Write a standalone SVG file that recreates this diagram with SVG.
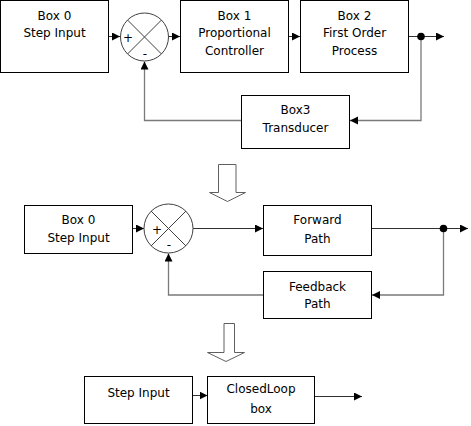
<svg xmlns="http://www.w3.org/2000/svg" width="471" height="426" viewBox="0 0 471 426">
<style>
.box{fill:#fff;stroke:#000;stroke-width:1}
.t{font-family:"DejaVu Sans",sans-serif;font-size:12px;fill:#000;text-anchor:middle}
.sum{fill:#fff;stroke:#404040;stroke-width:1}
.x{stroke:#404040;stroke-width:1}
.fw{fill:none;stroke:#303030;stroke-width:1}
.fb{fill:none;stroke:#7a7a7a;stroke-width:1.3}
.big{fill:#fff;stroke:#606060;stroke-width:1}
.s{font-family:"DejaVu Sans",sans-serif;font-size:12px;fill:#000;text-anchor:middle}
</style>
<defs>
<marker id="ah" markerUnits="userSpaceOnUse" markerWidth="9" markerHeight="9" refX="8" refY="4" orient="auto">
<path d="M0,0 L8,4 L0,8 z" fill="#000"/>
</marker>
</defs>

<g id="connectors">
<!-- top -->
<line class="fw" x1="108.5" y1="36.5" x2="120" y2="36.5" marker-end="url(#ah)"/>
<line class="fw" x1="169" y1="36.5" x2="180" y2="36.5" marker-end="url(#ah)"/>
<line class="fw" x1="288.5" y1="36.5" x2="300" y2="36.5" marker-end="url(#ah)"/>
<line class="fw" x1="408.5" y1="36.5" x2="444" y2="36.5" marker-end="url(#ah)"/>
<polyline class="fb" points="421,36.5 421,120.5 350,120.5" marker-end="url(#ah)"/>
<polyline class="fb" points="241.5,120.5 144.5,120.5 144.5,61.5" marker-end="url(#ah)"/>
<circle cx="421" cy="36.5" r="3.8" fill="#000"/>
<!-- middle -->
<line class="fw" x1="132.5" y1="228.5" x2="144" y2="228.5" marker-end="url(#ah)"/>
<line class="fw" x1="193" y1="228.5" x2="263" y2="228.5" marker-end="url(#ah)"/>
<line class="fw" x1="372" y1="228.5" x2="468" y2="228.5" marker-end="url(#ah)"/>
<polyline class="fb" points="443.5,228.5 443.5,295 372,295" marker-end="url(#ah)"/>
<polyline class="fb" points="263.5,295 168.5,295 168.5,253.5" marker-end="url(#ah)"/>
<circle cx="443.5" cy="228.5" r="3.8" fill="#000"/>
<!-- bottom -->
<line class="fw" x1="193" y1="395.5" x2="207.5" y2="395.5" marker-end="url(#ah)"/>
<line class="fw" x1="314.5" y1="396.5" x2="362" y2="396.5" marker-end="url(#ah)"/>
</g>

<g id="bigarrow1"><path class="big" d="M218.5,164.5 H236 V192.5 H245.5 L227.5,201.5 L209.5,192.5 H218.5 Z"/></g>
<g id="bigarrow2"><path class="big" d="M224,323.5 H234.5 V352.5 H244.5 L226,361.5 L207.5,352.5 H224 Z"/></g>

<g id="box0"><rect class="box" x="0.5" y="0.5" width="108" height="72"/>
<text class="t" x="54.5" y="19.5">Box 0</text><text class="t" x="54.5" y="37">Step Input</text></g>
<g id="sum1"><circle class="sum" cx="144.5" cy="37" r="24"/>
<line class="x" x1="127.5" y1="20" x2="161.5" y2="54"/><line class="x" x1="161.5" y1="20" x2="127.5" y2="54"/>
<text class="s" x="128" y="41.5">+</text><text class="s" x="145" y="57.5">-</text></g>
<g id="box1"><rect class="box" x="180.5" y="0.5" width="108" height="72"/>
<text class="t" x="234.5" y="19.5">Box 1</text><text class="t" x="234.5" y="37">Proportional</text><text class="t" x="234.5" y="54.5">Controller</text></g>
<g id="box2"><rect class="box" x="300.5" y="0.5" width="108" height="72"/>
<text class="t" x="354.5" y="19.5">Box 2</text><text class="t" x="354.5" y="37">First Order</text><text class="t" x="354.5" y="54.5">Process</text></g>
<g id="box3"><rect class="box" x="241.5" y="95.5" width="108" height="53"/>
<text class="t" x="295.5" y="114.3">Box3</text><text class="t" x="295.5" y="131.7">Transducer</text></g>

<g id="mbox0"><rect class="box" x="24.5" y="205.5" width="108" height="48"/>
<text class="t" x="78.5" y="224">Box 0</text><text class="t" x="78.5" y="242.3">Step Input</text></g>
<g id="sum2"><circle class="sum" cx="168.5" cy="228.5" r="24.5"/>
<line class="x" x1="151" y1="211" x2="186" y2="246"/><line class="x" x1="186" y1="211" x2="151" y2="246"/>
<text class="s" x="157" y="234">+</text><text class="s" x="169" y="249">-</text></g>
<g id="forward"><rect class="box" x="263.5" y="205.5" width="108" height="50"/>
<text class="t" x="317.5" y="224.3">Forward</text><text class="t" x="317.5" y="242.7">Path</text></g>
<g id="feedback"><rect class="box" x="263.5" y="271.5" width="108" height="47"/>
<text class="t" x="317.5" y="290.7">Feedback</text><text class="t" x="317.5" y="308">Path</text></g>

<g id="stepinput"><rect class="box" x="84.5" y="376.5" width="108" height="47"/>
<text class="t" x="138.5" y="396.7">Step Input</text></g>
<g id="closedloop"><rect class="box" x="207.5" y="376.5" width="107" height="47"/>
<text class="t" x="261" y="393.3">ClosedLoop</text><text class="t" x="261" y="413.3">box</text></g>
</svg>
